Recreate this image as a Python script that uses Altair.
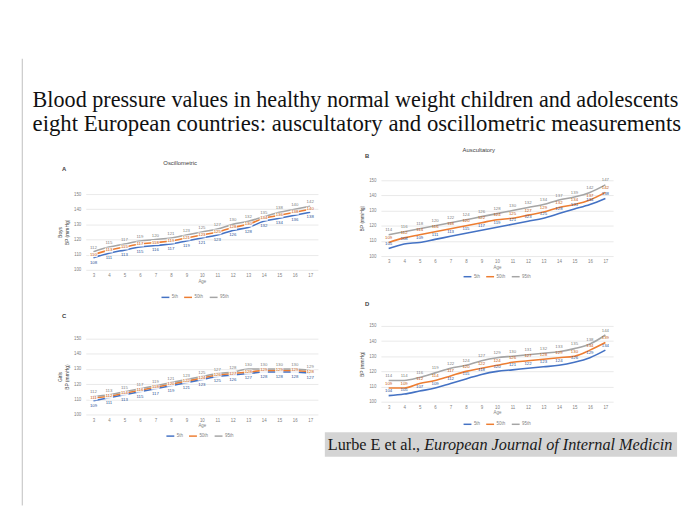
import altair as alt
import pandas as pd

# ---------------- data ----------------
ages = list(range(3, 18))
pct_names = ["5th", "50th", "95th"]
line_colors = ["#4472C4", "#ED7D31", "#A5A5A5"]
label_colors = ["#2F5597", "#C55A11", "#7F7F7F"]
y_ticks = [100, 110, 120, 130, 140, 150]

boys_osc_p5 = [108, 111, 113, 115, 116, 117, 119, 121, 123, 126, 128, 132, 134, 136, 138]
boys_osc_p50 = [110, 113, 115, 117, 118, 119, 121, 123, 125, 128, 130, 134, 136, 138, 140]
boys_osc_p95 = [112, 115, 117, 119, 120, 121, 123, 125, 127, 130, 132, 135, 138, 140, 142]

boys_aus_p5 = [105, 108, 109, 111, 113, 115, 117, 119, 121, 123, 125, 128, 131, 134, 138]
boys_aus_p50 = [109, 112, 114, 116, 118, 120, 122, 124, 125, 127, 129, 132, 134, 137, 142]
boys_aus_p95 = [114, 116, 118, 120, 122, 124, 126, 128, 130, 132, 134, 137, 139, 142, 147]

girls_osc_p5 = [109, 111, 113, 115, 117, 119, 121, 123, 125, 126, 127, 128, 128, 128, 127]
girls_osc_p50 = [111, 112, 114, 116, 118, 120, 122, 124, 126, 127, 128, 129, 129, 129, 128]
girls_osc_p95 = [112, 113, 115, 117, 119, 121, 123, 125, 127, 128, 130, 130, 130, 130, 129]

girls_aus_p5 = [104, 105, 107, 109, 112, 115, 118, 120, 121, 122, 123, 124, 126, 129, 134]
girls_aus_p50 = [109, 109, 112, 114, 117, 120, 122, 124, 126, 127, 128, 129, 130, 134, 139]
girls_aus_p95 = [114, 114, 116, 119, 122, 124, 127, 129, 130, 131, 132, 133, 135, 138, 144]

title_line1 = "Blood pressure values in healthy normal weight children and adolescents"
title_line2 = "eight European countries: auscultatory and oscillometric measurements"
cite_plain = "Lurbe E et al.,"
cite_journal = "European Journal of Internal Medicine"

FONT = "Liberation Sans"
SERIF = "Liberation Serif"
AX_GRAY = "#7f7f7f"
PW, PH = 236, 77
RIGHT_PAD = 57  # right-hand panels: view starts 57px left of the plotting area


def make_df(p5, p50, p95):
    rows = []
    for name, vals in zip(pct_names, [p5, p50, p95]):
        for a, v in zip(ages, vals):
            rows.append({"Age": a, "BP": v, "Percentile": name})
    return pd.DataFrame(rows)


def panel(p5, p50, p95, letter, letter_xy, ytitle, offsets, legend_xy, boxed_mid,
          top_shift=0, left_pad=0, col_title=None, col_dx=0, col_offset=1):
    df = make_df(p5, p50, p95)
    height = PH + top_shift
    width = PW + left_pad
    x = alt.X(
        "Age:O",
        scale=alt.Scale(type="point", padding=0.5, range=[left_pad, width]),
        axis=alt.Axis(title="Age", labelAngle=0, domain=False, ticks=False,
                      labelFontSize=4.5, labelColor=AX_GRAY, labelPadding=3,
                      titleFontSize=4.5, titleColor=AX_GRAY, titlePadding=1,
                      titleFontWeight="normal"),
    )
    y = alt.Y(
        "BP:Q",
        scale=alt.Scale(domain=[100, 150], nice=False, zero=False, range=[height, top_shift]),
        axis=alt.Axis(title=ytitle, values=y_ticks, domain=False, ticks=False, grid=True,
                      gridColor="#d9d9d9", gridWidth=0.6, labelFontSize=4.5,
                      labelColor=AX_GRAY, labelPadding=5, titleFontSize=5,
                      titleColor="#404040", titlePadding=4, titleFontWeight="normal",
                      offset=-left_pad),
    )
    base = alt.Chart(df).encode(x=x, y=y)
    lines = base.mark_line(interpolate="monotone", strokeWidth=1.6).encode(
        color=alt.Color(
            "Percentile:N",
            sort=pct_names,
            scale=alt.Scale(domain=pct_names, range=line_colors),
            legend=alt.Legend(orient="none", legendX=legend_xy[0], legendY=legend_xy[1],
                              direction="horizontal", title=None, symbolType="stroke",
                              symbolSize=64, symbolStrokeWidth=1.5, labelFontSize=4.5,
                              labelColor=AX_GRAY, columnPadding=3, labelOffset=1.5),
        )
    )
    layers = [lines]
    for name, lc, dy in zip(pct_names, label_colors, offsets):
        sub = base.transform_filter(alt.datum.Percentile == name)
        if boxed_mid and name == "50th":
            layers.append(sub.mark_point(shape="M-1,-0.6L1,-0.6L1,0.6L-1,0.6Z", filled=True,
                                         color="white", opacity=0.9, size=70, strokeWidth=0))
        layers.append(sub.mark_text(fontSize=4.4, dy=dy, color=lc).encode(text="BP:Q"))
    # panel letter (annotation)
    layers.append(
        alt.Chart(pd.DataFrame({"t": [letter]})).mark_text(
            fontSize=6, fontWeight="bold", color="#404040", align="center", baseline="middle"
        ).encode(text="t:N", x=alt.value(letter_xy[0]), y=alt.value(letter_xy[1]))
    )
    props = dict(width=width, height=height)
    if col_title:
        props["title"] = alt.TitleParams(col_title, anchor="middle", frame="group", dx=col_dx,
                                         offset=col_offset, fontSize=6, fontWeight="normal",
                                         color="#404040")
    return alt.layer(*layers).properties(**props)


# A: plot area drawn 14px lower inside its view so it sits below B as in the slide
A = panel(boys_osc_p5, boys_osc_p50, boys_osc_p95, "A", (-22, -11), ["Boys", "BP (mmHg)"],
          [5, 0, -4], (76, 114), True, top_shift=14, col_title="Oscillometric", col_dx=-22)
B = panel(boys_aus_p5, boys_aus_p50, boys_aus_p95, "B", (43, -25), "BP (mmHg)",
          [-4.5, -4.5, -4.5], (140, 93), False, left_pad=RIGHT_PAD,
          col_title="Auscultatory", col_dx=10, col_offset=0)
C = panel(girls_osc_p5, girls_osc_p50, girls_osc_p95, "C", (-22, -23), ["Girls", "BP (mmHg)"],
          [5, 0, -4], (81, 94), True)
D = panel(girls_aus_p5, girls_aus_p50, girls_aus_p95, "D", (43, -22), "BP (mmHg)",
          [-4.5, -4.5, -4.5], (140, 95), False, left_pad=RIGHT_PAD)

cite_a = alt.Chart(pd.DataFrame({"t": [cite_plain]})).mark_text(
    align="left", baseline="alphabetic", font=SERIF, fontSize=16.5, color="#1a1a1a"
).encode(text="t:N", x=alt.value(3), y=alt.value(18))
cite_b = alt.Chart(pd.DataFrame({"t": [cite_journal]})).mark_text(
    align="left", baseline="alphabetic", font=SERIF, fontSize=16.5, fontStyle="italic",
    color="#1a1a1a", limit=258, ellipsis=" "
).encode(text="t:N", x=alt.value(101), y=alt.value(18))
citation = alt.layer(cite_a, cite_b).properties(
    width=358, height=25, view=alt.ViewBackground(fill="#d4d4d4", stroke=None))

left_col = alt.vconcat(A, C, spacing=13).resolve_scale(
    color="independent").resolve_legend(color="independent")
right_panels = alt.vconcat(B, D, spacing=22).resolve_scale(
    color="independent").resolve_legend(color="independent")
right_col = alt.vconcat(right_panels, citation, spacing=5).resolve_scale(
    color="independent").resolve_legend(color="independent")

content = alt.hconcat(left_col, right_col, spacing=7).properties(
    title=alt.TitleParams(title_line1, subtitle=title_line2, anchor="start", frame="group",
                          font=SERIF, fontSize=22.5, lineHeight=24, fontWeight="normal",
                          color="#111111", subtitleFont=SERIF, subtitleFontSize=23.1,
                          subtitleLineHeight=24, subtitleColor="#111111", subtitlePadding=2,
                          dx=-54, offset=11)
).resolve_scale(color="independent").resolve_legend(color="independent")

# slide frame: a thin vertical rule running from above the title to the bottom
aux_df = pd.DataFrame({"v": [0, 1]})
frame = alt.Chart(aux_df).mark_point(opacity=0, size=1).encode(
    y=alt.Y("v:Q", scale=alt.Scale(range=[330, -124]),
            axis=alt.Axis(title=None, labels=False, ticks=False, grid=False,
                          domainColor="#bfbfbf", domainWidth=1))
).properties(width=1, height=330)

chart = alt.hconcat(frame, content, spacing=10).properties(
    padding={"left": 14, "top": 45, "right": 0, "bottom": 0},
    background="white",
).resolve_scale(color="independent").resolve_legend(color="independent").configure(
    font=FONT
).configure_view(stroke=None)

chart.save("out.html", embed_options={"renderer": "svg", "actions": False})
